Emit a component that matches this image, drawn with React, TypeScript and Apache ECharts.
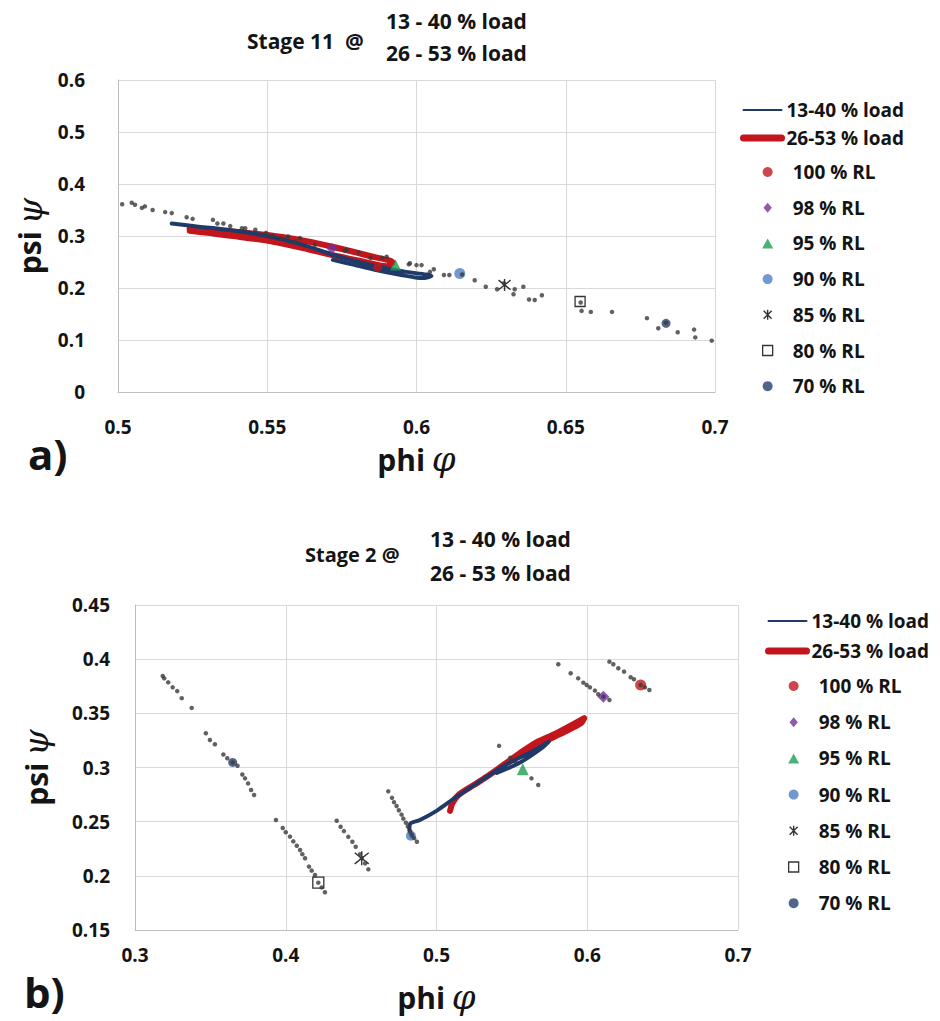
import React, { useEffect, useRef } from "react";
import * as echarts from "echarts";

const FONT = '"Open Sans", Lato, "Liberation Sans", sans-serif';
const INK = "#141414";

// Asterisk marker for the 85 % RL point
const ASTERISK = "path://M1,1L9,9M9,1L1,9M5,0L5,10";

const loadNames = ["13-40 % load", "26-53 % load"];
const loadColors = ["#1f3a68", "#c3161c"];

const rlNames = ["100 % RL", "98 % RL", "95 % RL", "90 % RL", "85 % RL", "80 % RL", "70 % RL"];
const rlColors = ["#c3161c", "#7030a0", "#1f9e55", "#4e7ec6", "#000000", "#000000", "#243f6e"];
const rlSymbols = ["circle", "diamond", "triangle", "circle", ASTERISK, "rect", "circle"];
// legend keys keep their proportions, so the angular ones are given as paths
const rlLegendIcons = [
  "circle",
  "path://M5,0L10,6L5,12L0,6Z",
  "path://M5,0L10,9L0,9Z",
  "circle",
  ASTERISK,
  "path://M0,0L10,0L10,10L0,10Z",
  "circle",
];
const rlSizesTop = [9, 11, 11, 11, 12, 10, 9];
const rlSizesBottom = [11, 12, 12, 10, 14, 11, 9];

// ---- Stage 11 (top panel) ----
const topXTicks = [0.5, 0.7, 0.05];
const topYTicks = [0, 0.6, 0.1];

const topLoad13: number[][] = [
  [0.518, 0.324], [0.527, 0.318], [0.538, 0.311], [0.55, 0.3], [0.562, 0.283],
  [0.572, 0.264], [0.58, 0.251], [0.588, 0.24], [0.596, 0.2315], [0.605, 0.223],
  [0.602, 0.219], [0.594, 0.226], [0.586, 0.235], [0.578, 0.246], [0.572, 0.254],
];
const topLoad26: number[][] = [
  [0.524, 0.314], [0.535, 0.31], [0.545, 0.305], [0.555, 0.298], [0.565, 0.288],
  [0.575, 0.275], [0.584, 0.262], [0.592, 0.249], [0.59, 0.242], [0.582, 0.251],
  [0.572, 0.263], [0.562, 0.277], [0.552, 0.289], [0.54, 0.299], [0.53, 0.306],
  [0.524, 0.31],
];
const topRL: number[][] = [
  [0.587, 0.24], [0.5717, 0.276], [0.593, 0.244], [0.6145, 0.228],
  [0.6295, 0.206], [0.6548, 0.174], [0.6836, 0.132],
];
const topDots: number[][] = [
  [0.5014, 0.361], [0.5046, 0.364], [0.5057, 0.36], [0.508, 0.354], [0.509, 0.357],
  [0.5116, 0.35], [0.5158, 0.346], [0.518, 0.344], [0.523, 0.336], [0.525, 0.333],
  [0.5318, 0.331], [0.5333, 0.324], [0.5353, 0.324], [0.5376, 0.319], [0.5415, 0.315],
  [0.5426, 0.315], [0.546, 0.312], [0.5496, 0.306], [0.5516, 0.3], [0.555, 0.295],
  [0.557, 0.299], [0.5594, 0.289], [0.561, 0.296], [0.566, 0.283], [0.576, 0.272],
  [0.5767, 0.273], [0.5806, 0.2686], [0.5846, 0.258], [0.5885, 0.258], [0.59, 0.26],
  [0.5974, 0.2455], [0.5978, 0.2475], [0.6, 0.244], [0.6017, 0.244], [0.6045, 0.231],
  [0.6058, 0.236], [0.6092, 0.225], [0.611, 0.225], [0.6153, 0.226], [0.6195, 0.215],
  [0.6232, 0.2025], [0.627, 0.1975], [0.6293, 0.209], [0.6329, 0.1975], [0.6325, 0.188],
  [0.6358, 0.2025], [0.6377, 0.178], [0.6396, 0.177], [0.642, 0.186], [0.655, 0.172],
  [0.6553, 0.156], [0.6584, 0.154], [0.6655, 0.154], [0.6772, 0.142], [0.681, 0.1225],
  [0.6836, 0.133], [0.6875, 0.115], [0.693, 0.12], [0.6934, 0.105], [0.6989, 0.0987],
];

// ---- Stage 2 (bottom panel) ----
const botXTicks = [0.3, 0.7, 0.1];
const botYTicks = [0.15, 0.45, 0.05];

const botLoad13: number[][] = [
  [0.4835, 0.236], [0.482, 0.242], [0.4825, 0.248], [0.489, 0.2515], [0.5, 0.26],
  [0.5112, 0.271], [0.522, 0.281], [0.533, 0.291], [0.544, 0.301], [0.555, 0.309],
  [0.565, 0.316], [0.5745, 0.3238], [0.57, 0.318], [0.556, 0.305], [0.54, 0.295],
];
const botLoad26: number[][] = [
  [0.509, 0.26], [0.5105, 0.267], [0.5145, 0.2745], [0.525, 0.284], [0.535, 0.293],
  [0.545, 0.303], [0.555, 0.313], [0.566, 0.323], [0.577, 0.33], [0.588, 0.338],
  [0.598, 0.3455], [0.596, 0.341], [0.585, 0.333], [0.573, 0.325], [0.56, 0.316],
  [0.548, 0.305],
];
const botRL: number[][] = [
  [0.6354, 0.3762], [0.6107, 0.3654], [0.5572, 0.2983], [0.483, 0.237],
  [0.4504, 0.2162], [0.4216, 0.1937], [0.3648, 0.3047],
];
const botDots: number[][] = [
  // 70 % RL sweep
  [0.3184, 0.3845], [0.3194, 0.3823], [0.322, 0.3786], [0.325, 0.374], [0.328, 0.3705],
  [0.331, 0.364], [0.3376, 0.355], [0.347, 0.3316], [0.3497, 0.3254], [0.353, 0.3214],
  [0.3586, 0.312], [0.3612, 0.3085], [0.3648, 0.3047], [0.368, 0.3016], [0.3712, 0.2936],
  [0.373, 0.29], [0.375, 0.2853], [0.377, 0.2792], [0.379, 0.2746],
  // 80 % RL sweep
  [0.3935, 0.2515], [0.398, 0.2441], [0.4, 0.2402], [0.4028, 0.2362], [0.405, 0.2318],
  [0.4073, 0.2278], [0.4095, 0.2238], [0.411, 0.22], [0.4128, 0.2162], [0.4154, 0.2085],
  [0.4172, 0.2048], [0.4194, 0.2008], [0.4216, 0.1937], [0.4238, 0.1893], [0.426, 0.1848],
  // 85 % RL sweep
  [0.4338, 0.2508], [0.4364, 0.2453], [0.4386, 0.2413], [0.4415, 0.236], [0.4442, 0.2314],
  [0.4464, 0.2268], [0.4493, 0.22], [0.4504, 0.2162], [0.4526, 0.2115], [0.4548, 0.206],
  // 90 % RL sweep
  [0.468, 0.278], [0.4705, 0.272], [0.4718, 0.268], [0.4735, 0.2645], [0.475, 0.2605],
  [0.4768, 0.2565], [0.478, 0.2528], [0.4797, 0.249], [0.481, 0.2455], [0.4826, 0.2412],
  [0.4838, 0.238], [0.4852, 0.2348], [0.487, 0.2315],
  // 95 % RL sweep
  [0.5415, 0.32], [0.549, 0.309], [0.5525, 0.3045], [0.563, 0.29], [0.5675, 0.2838],
  // 98 % RL sweep
  [0.5808, 0.3953], [0.589, 0.387], [0.594, 0.3823], [0.5974, 0.3783], [0.5996, 0.3762],
  [0.6018, 0.374], [0.6051, 0.371], [0.6073, 0.3676], [0.6107, 0.3654], [0.6147, 0.3623],
  // 100 % RL sweep
  [0.6147, 0.3977], [0.6173, 0.3953], [0.6206, 0.3916], [0.6244, 0.3885], [0.6288, 0.3833],
  [0.631, 0.3814], [0.6354, 0.3762], [0.6383, 0.374], [0.6412, 0.3716],
];

function rlItemStyle(i: number) {
  if (i === 4) return { color: "rgba(0,0,0,0)", borderColor: "#000", borderWidth: 1.4 };
  if (i === 5) return { color: "#ffffff", borderColor: "#000", borderWidth: 1.3 };
  return { color: rlColors[i], borderWidth: 0 };
}

const fmt = (v: number) => String(+v.toFixed(2));

const nameRich = {
  t: { fontSize: 30, fontWeight: "bold", fontFamily: FONT, color: INK },
  g: { fontSize: 34, fontStyle: "italic", fontFamily: "DejaVu Serif", color: INK },
};

function xAxis(gridIndex: number, ticks: number[], margin: number) {
  return {
    type: "value",
    gridIndex,
    min: ticks[0],
    max: ticks[1],
    interval: ticks[2],
    name: "{t|phi}  {g|φ}",
    nameLocation: "middle",
    nameGap: 50,
    nameTextStyle: { rich: nameRich },
    axisLine: { show: true, lineStyle: { color: "#bdbdbd", width: 1 } },
    axisTick: { show: false },
    splitLine: { show: true, lineStyle: { color: "#d9d9d9", width: 1 } },
    axisLabel: { margin, fontSize: 19, fontWeight: "bold", fontFamily: FONT, color: INK, formatter: fmt },
  };
}

function yAxis(gridIndex: number, ticks: number[], margin: number, nameGap: number) {
  return {
    type: "value",
    gridIndex,
    min: ticks[0],
    max: ticks[1],
    interval: ticks[2],
    name: "{t|psi}  {g|ψ}",
    nameLocation: "middle",
    nameGap,
    nameRotate: 90,
    nameTextStyle: { rich: nameRich },
    axisLine: { show: true, lineStyle: { color: "#bdbdbd", width: 1 } },
    axisTick: { show: false },
    splitLine: { show: true, lineStyle: { color: "#d9d9d9", width: 1 } },
    axisLabel: { margin, fontSize: 19, fontWeight: "bold", fontFamily: FONT, color: INK, formatter: fmt },
  };
}

function panelSeries(idx: number, load13: number[][], load26: number[][], rl: number[][], dots: number[][], sizes: number[]) {
  const out: any[] = [
    {
      name: loadNames[1],
      type: "line",
      xAxisIndex: idx,
      yAxisIndex: idx,
      data: load26,
      symbol: "none",
      smooth: 0.3,
      lineStyle: { color: loadColors[1], width: 6, cap: "round", join: "round" },
      itemStyle: { color: loadColors[1] },
      z: 2,
    },
    {
      name: loadNames[0],
      type: "line",
      xAxisIndex: idx,
      yAxisIndex: idx,
      data: load13,
      symbol: "none",
      smooth: 0.3,
      lineStyle: { color: loadColors[0], width: 4, cap: "round", join: "round" },
      itemStyle: { color: loadColors[0] },
      z: 3,
    },
  ];
  rlNames.forEach((n, i) => {
    out.push({
      name: n,
      type: "scatter",
      xAxisIndex: idx,
      yAxisIndex: idx,
      data: [rl[i]],
      symbol: rlSymbols[i],
      symbolSize: sizes[i],
      itemStyle: rlItemStyle(i),
      z: 4,
    });
  });
  out.push({
    name: "operating points",
    type: "scatter",
    xAxisIndex: idx,
    yAxisIndex: idx,
    data: dots,
    symbol: "circle",
    symbolSize: 4.5,
    itemStyle: { color: "#3a3a3a" },
    z: 5,
  });
  return out;
}

const legendText = { fontSize: 19, fontWeight: "bold", fontFamily: FONT, color: INK, lineHeight: 22 };

function loadLegend(left: number, top: number, gap: number) {
  const hidden = { color: "rgba(0,0,0,0)", opacity: 0, borderWidth: 0 };
  return {
    left,
    top,
    orient: "vertical",
    padding: 0,
    itemGap: gap,
    itemWidth: 38,
    itemHeight: 14,
    selectedMode: false,
    textStyle: legendText,
    data: [
      { name: loadNames[0], lineStyle: { width: 2 }, itemStyle: hidden },
      { name: loadNames[1], lineStyle: { width: 7, cap: "round" }, itemStyle: hidden },
    ],
  };
}

function rlLegend(left: number, top: number, gap: number) {
  return {
    left,
    top,
    orient: "vertical",
    padding: 0,
    itemGap: gap,
    itemWidth: 40,
    itemHeight: 10,
    symbolKeepAspect: true,
    selectedMode: false,
    textStyle: legendText,
    data: rlNames.map((n, i) => ({ name: n, icon: rlLegendIcons[i], itemStyle: rlItemStyle(i) })),
  };
}

function label(text: string, left: number, top: number, size: number) {
  return {
    type: "text",
    left,
    top,
    style: { text, font: `bold ${size}px ${FONT}`, fill: INK },
  };
}

export default function App() {
  const ref = useRef<HTMLDivElement>(null);

  useEffect(() => {
    document.body.style.margin = "0";
    if (!ref.current) return;
    const chart = echarts.init(ref.current, undefined, { renderer: "svg" });
    chart.setOption({
      animation: false,
      backgroundColor: "#ffffff",
      grid: [
        { left: 118, top: 80, width: 597, height: 312 },
        { left: 135, top: 605, width: 603, height: 325 },
      ],
      xAxis: [xAxis(0, topXTicks, 25), xAxis(1, botXTicks, 15)],
      yAxis: [yAxis(0, topYTicks, 33, 70), yAxis(1, botYTicks, 25, 82)],
      legend: [
        loadLegend(740, 99, 6),
        rlLegend(762, 161, 13.7),
        loadLegend(765, 610, 8),
        rlLegend(788, 675, 14.2),
      ],
      graphic: [
        label("Stage 11  @", 247, 30, 21),
        label("13 - 40 % load", 386, 10, 21),
        label("26 - 53 % load", 386, 42, 21),
        label("Stage 2 @", 305, 544, 20),
        label("13 - 40 % load", 430, 528, 21),
        label("26 - 53 % load", 430, 562, 21),
        label("a)", 28, 432, 42),
        label("b)", 24, 970, 42),
      ],
      series: [
        ...panelSeries(0, topLoad13, topLoad26, topRL, topDots, rlSizesTop),
        ...panelSeries(1, botLoad13, botLoad26, botRL, botDots, rlSizesBottom),
      ],
    });
    return () => chart.dispose();
  }, []);

  return <div ref={ref} style={{ width: 940, height: 1021 }} />;
}
